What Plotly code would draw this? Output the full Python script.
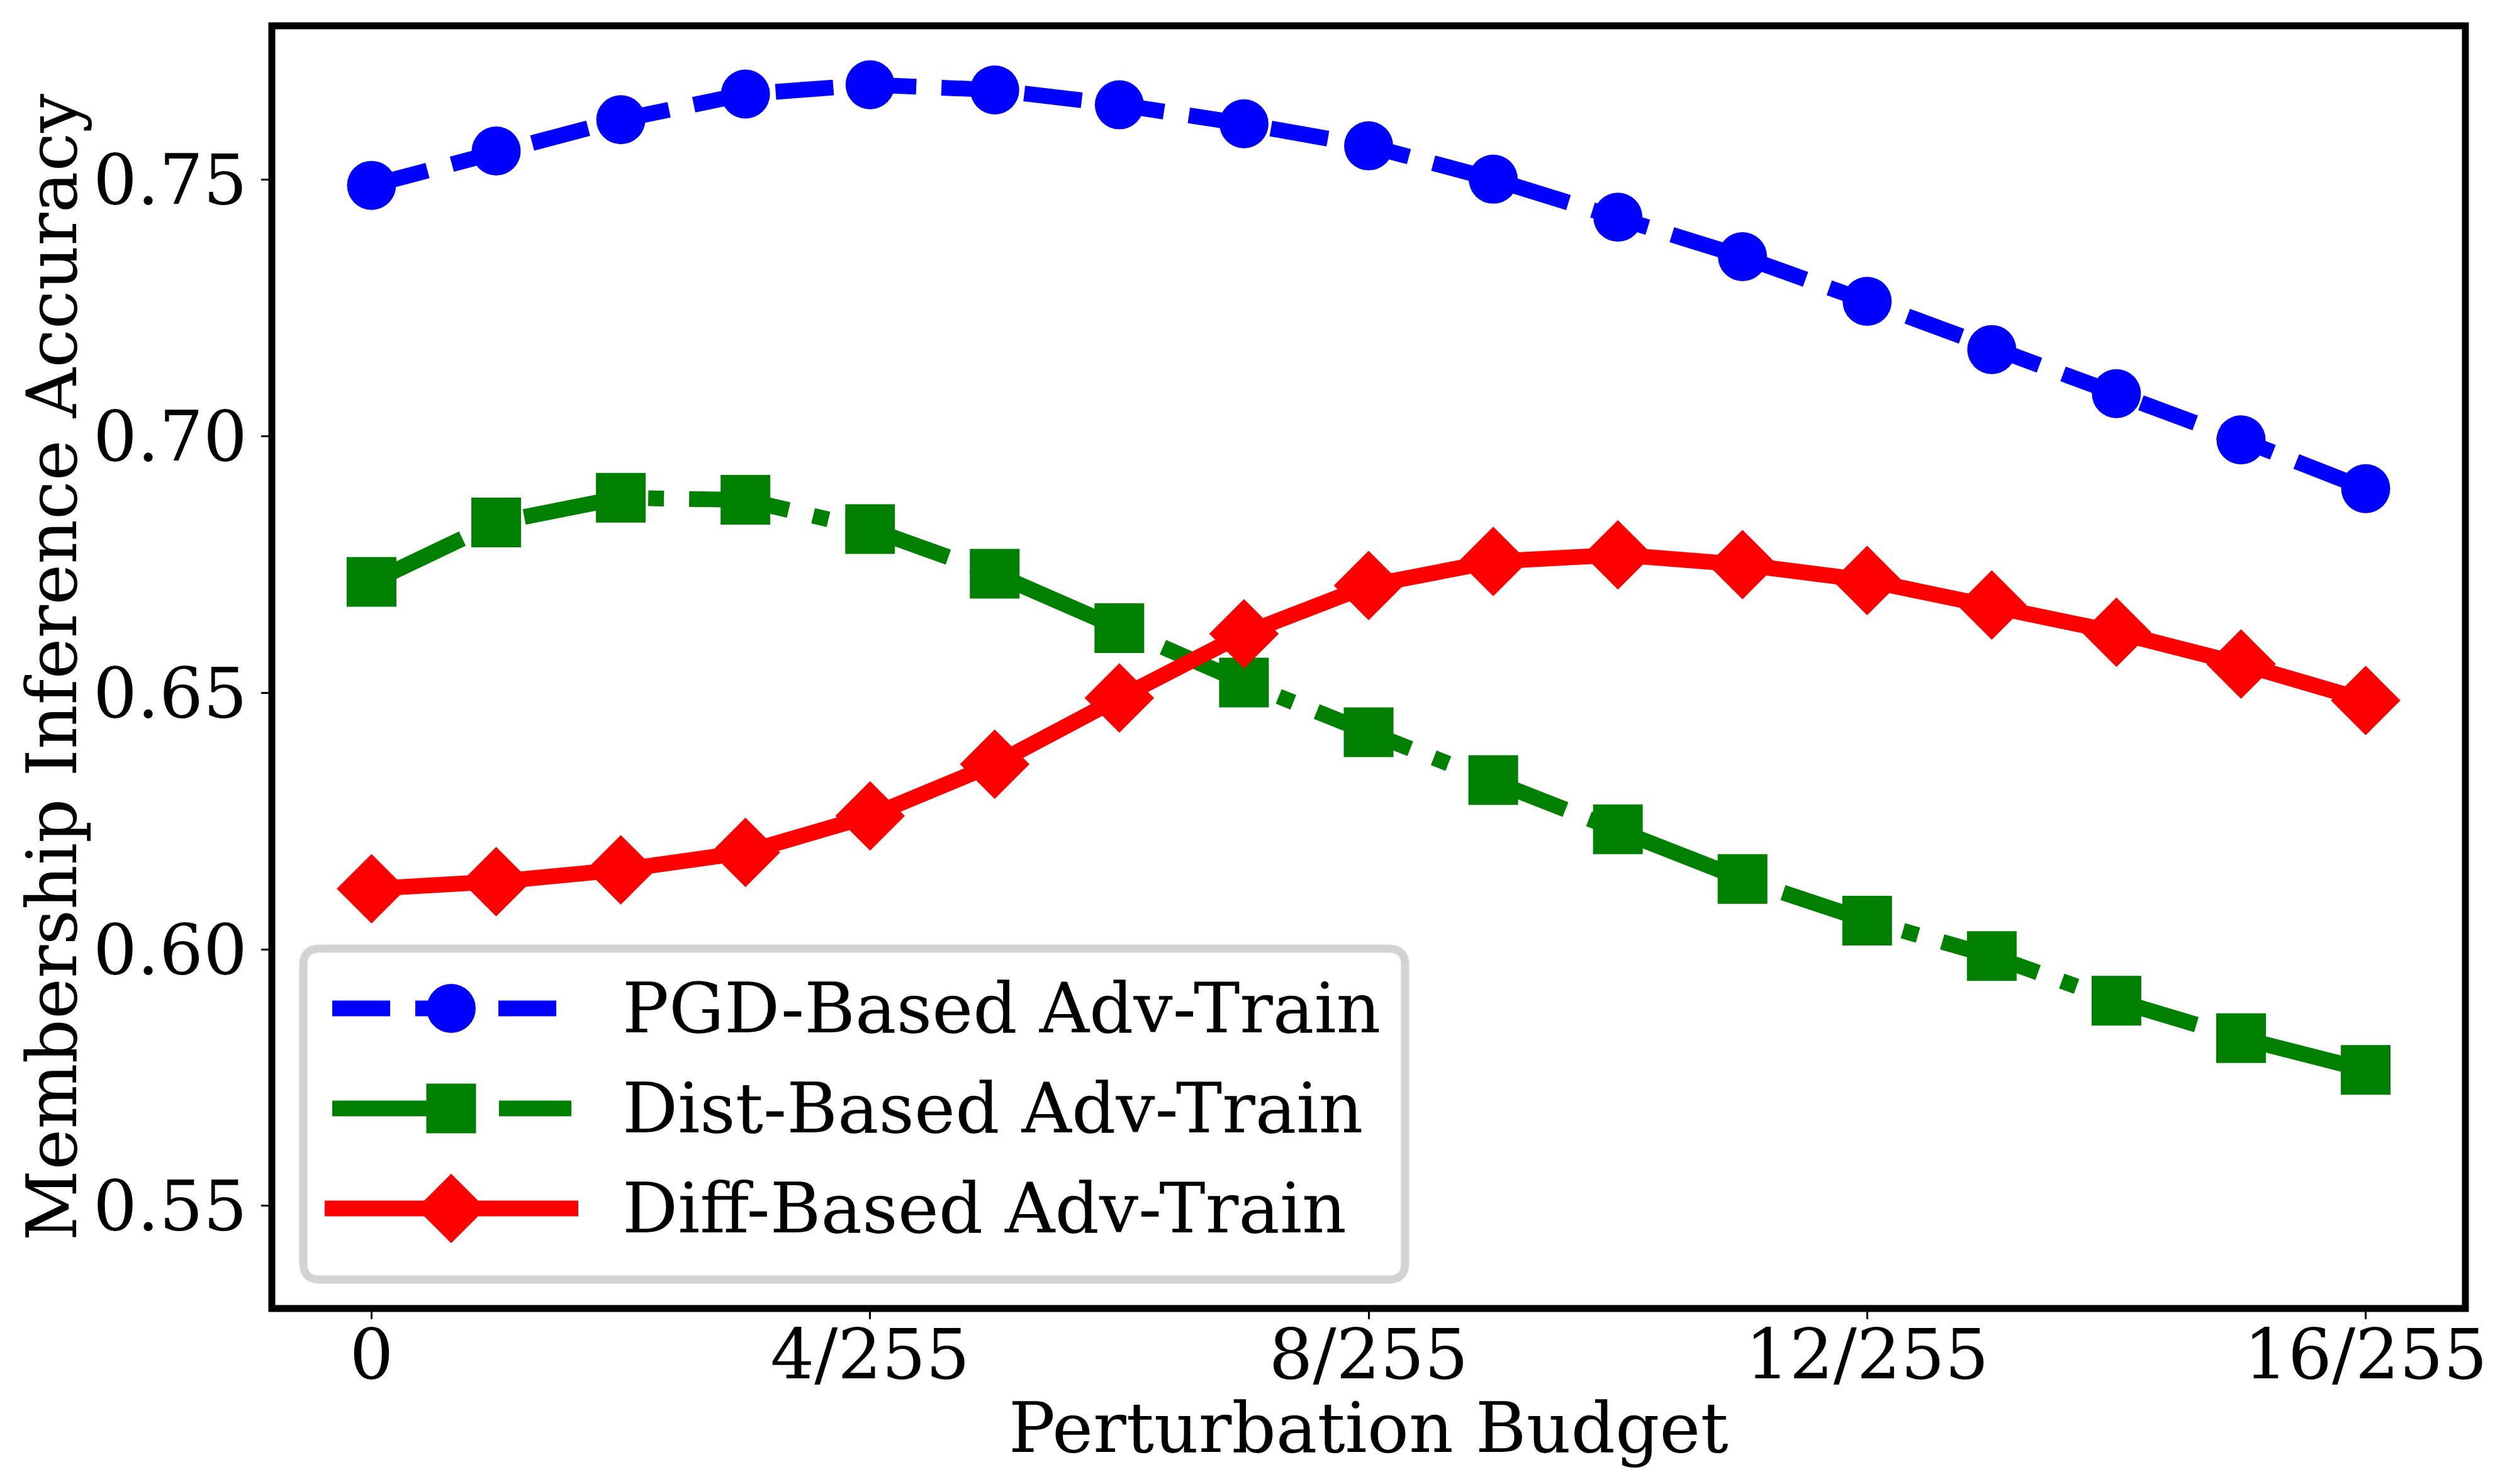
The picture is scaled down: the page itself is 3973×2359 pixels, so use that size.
import plotly.graph_objects as go

# perturbation budget steps (in units of 1/255)
budget = list(range(17))
x_tick_vals = [0, 4, 8, 12, 16]
x_tick_text = ["0", "4/255", "8/255", "12/255", "16/255"]
y_tick_vals = [0.55, 0.60, 0.65, 0.70, 0.75]
y_tick_text = ["0.55", "0.60", "0.65", "0.70", "0.75"]

series_names = ["PGD-Based Adv-Train", "Dist-Based Adv-Train", "Diff-Based Adv-Train"]

pgd_acc = [0.7489, 0.7556, 0.7617, 0.7667, 0.7685, 0.7675, 0.7646, 0.7609, 0.7566,
           0.7501, 0.7427, 0.7350, 0.7263, 0.7169, 0.7083, 0.6993, 0.6898]
dist_acc = [0.6716, 0.6832, 0.6880, 0.6876, 0.6819, 0.6732, 0.6626, 0.6520, 0.6423,
            0.6330, 0.6234, 0.6137, 0.6056, 0.5987, 0.5900, 0.5827, 0.5765]
diff_acc = [0.6118, 0.6132, 0.6155, 0.6189, 0.6260, 0.6361, 0.6490, 0.6615, 0.6709,
            0.6756, 0.6769, 0.6750, 0.6719, 0.6671, 0.6618, 0.6556, 0.6485]

# ---- styling ----
W, H = 3973, 2359
L, R, T, B = 424, 63, 33, 287
FONT = "DejaVu Serif"
FS = 110
LW = 25

styles = [
    dict(color="#0000ff", dash="92px,40px", symbol="circle", size=78),
    dict(color="#008000", dash="160px,40px,25px,40px", symbol="square", size=79),
    dict(color="#ff0000", dash="solid", symbol="diamond", size=85),
]

fig = go.Figure()

for vals, st in zip([pgd_acc, dist_acc, diff_acc], styles):
    fig.add_trace(go.Scatter(
        x=budget, y=vals, mode="lines+markers", showlegend=False,
        line=dict(color=st["color"], width=LW, dash=st["dash"]),
        marker=dict(symbol=st["symbol"], size=st["size"], color=st["color"], line=dict(width=0)),
    ))

# ---- hand-made legend (pixel coordinates on an overlay axis) ----
leg_box = (474, 1500, 2225, 2026)   # left, top, right, bottom in px
leg_rows = [1595, 1754, 1913]
leg_line = [(520, 900), (520, 900), (508, 911)]
leg_marker_x = 709
leg_text_x = 980

bx0, by0, bx1, by1 = leg_box
rc = 26
path = (f"M{bx0 + rc},{by0} L{bx1 - rc},{by0} Q{bx1},{by0} {bx1},{by0 + rc} "
        f"L{bx1},{by1 - rc} Q{bx1},{by1} {bx1 - rc},{by1} L{bx0 + rc},{by1} "
        f"Q{bx0},{by1} {bx0},{by1 - rc} L{bx0},{by0 + rc} Q{bx0},{by0} {bx0 + rc},{by0} Z")
fig.add_shape(type="path", path=path, xref="x2", yref="y2", layer="below",
              line=dict(color="#d3d3d3", width=13), fillcolor="white")

for name, st, ry, (lx0, lx1) in zip(series_names, styles, leg_rows, leg_line):
    fig.add_trace(go.Scatter(
        x=[lx0, lx1], y=[ry, ry], mode="lines", xaxis="x2", yaxis="y2", showlegend=False,
        line=dict(color=st["color"], width=LW, dash=st["dash"]), hoverinfo="skip",
    ))
    fig.add_trace(go.Scatter(
        x=[leg_marker_x], y=[ry], mode="markers", xaxis="x2", yaxis="y2", showlegend=False,
        marker=dict(symbol=st["symbol"], size=st["size"], color=st["color"], line=dict(width=0)),
        hoverinfo="skip",
    ))
    fig.add_annotation(x=leg_text_x, y=ry, xref="x2", yref="y2", text=name, showarrow=False,
                       xanchor="left", yanchor="middle", borderpad=0,
                       font=dict(family=FONT, size=FS, color="black"))

# frame
fig.add_shape(type="rect", xref="paper", yref="paper", x0=0, x1=1, y0=0, y1=1,
              line=dict(color="black", width=11), layer="above")

# axis titles
fig.add_annotation(text="Perturbation Budget", xref="paper", yref="paper", x=0.5, y=-0.093,
                   xanchor="center", yanchor="middle", showarrow=False,
                   font=dict(family=FONT, size=FS, color="black"))
fig.add_annotation(text="Membership Inference Accuracy", xref="paper", yref="paper", x=-0.1004, y=0.5,
                   xanchor="center", yanchor="middle", textangle=-90, showarrow=False,
                   font=dict(family=FONT, size=FS, color="black"))

axis_common = dict(showgrid=False, zeroline=False, showline=False, ticks="outside",
                   ticklen=16, tickwidth=3, tickcolor="black",
                   tickfont=dict(family=FONT, size=FS, color="black"))

fig.update_layout(
    width=W, height=H,
    margin=dict(l=L, r=R, t=T, b=B, pad=0),
    paper_bgcolor="white", plot_bgcolor="white",
    showlegend=False,
    xaxis=dict(range=[-0.8, 16.8], tickvals=x_tick_vals, ticktext=x_tick_text,
               ticklabelstandoff=-38, **axis_common),
    yaxis=dict(range=[0.53, 0.78], tickvals=y_tick_vals, ticktext=y_tick_text, **axis_common),
    xaxis2=dict(range=[L, W - R], overlaying="x", visible=False, fixedrange=True),
    yaxis2=dict(range=[H - B, T], overlaying="y", visible=False, fixedrange=True),
)

fig.write_html("out.html")
